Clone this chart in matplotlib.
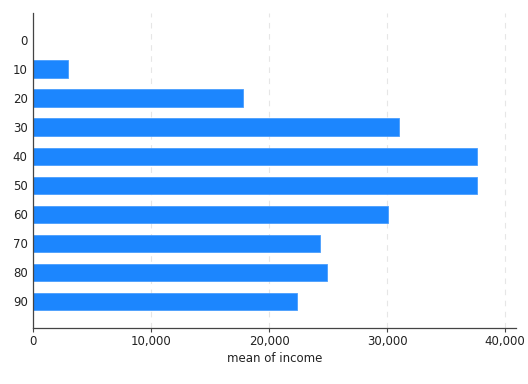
import matplotlib
matplotlib.use('Agg')
import matplotlib.pyplot as plt
from matplotlib.ticker import FuncFormatter

ages = [0, 10, 20, 30, 40, 50, 60, 70, 80, 90]
mean_income = [0, 2940, 17750, 30970, 37600, 37600, 30060, 24270, 24890, 22320]

fig = plt.figure(figsize=(5.28, 3.84), dpi=100)
ax = fig.add_axes([0.063, 0.147, 0.914, 0.819])

ax.barh(range(len(ages)), mean_income, height=0.6, color='#1c86fe',
        edgecolor='#4a9dfd', linewidth=0.6, zorder=2)
ax.set_yticks(range(len(ages)))
ax.set_yticklabels([str(a) for a in ages])
ax.set_ylim(9.9, -0.93)
ax.set_xlim(0, 40900)
ax.set_xticks([0, 10000, 20000, 30000, 40000])
ax.xaxis.set_major_formatter(FuncFormatter(lambda v, p: '{:,.0f}'.format(v)))

ax.grid(axis='x', color='#e6e6e6', linestyle=(0, (5, 5)), linewidth=0.8, zorder=0)
for s in ['top', 'right']:
    ax.spines[s].set_visible(False)
for s in ['left', 'bottom']:
    ax.spines[s].set_color('#444444')
    ax.spines[s].set_linewidth(0.9)
ax.tick_params(axis='y', length=0, labelsize=8.5, colors='#222222', pad=4)
ax.tick_params(axis='x', length=3, labelsize=8.5, colors='#444444', labelcolor='#222222',
               width=0.8, pad=2.5)
ax.set_xlabel('mean of income', fontsize=8.5, color='#222222', labelpad=3)

fig.savefig('out.png', dpi=100)
